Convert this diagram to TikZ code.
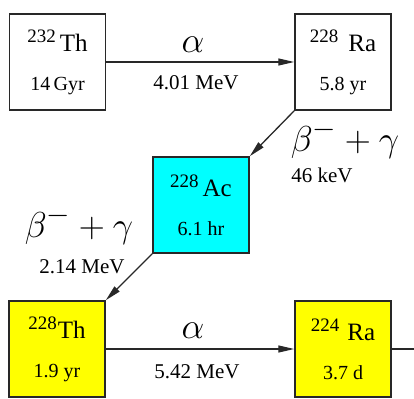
\documentclass[tikz,border=0pt]{standalone}
\usepackage{fontspec}
\setmainfont{Liberation Serif}
\usepackage{tikz}
\usetikzlibrary{arrows.meta, positioning}
\definecolor{accyan}{RGB}{0, 255, 255}
\definecolor{thyellow}{RGB}{255, 255, 0}
\definecolor{edgegray}{RGB}{40, 40, 40}

% mass number, symbol (optional gap between them)
\newcommand\iso[3][4pt]{%
  {\fontsize{19}{19}\selectfont\raisebox{9pt}{#2}}\hspace{#1}{\fontsize{25}{25}\selectfont #3}}
% decay mode, drawn large
\newcommand\dmode[1]{\scalebox{1.45}{$#1$}}

\begin{document}
\begin{tikzpicture}[
  x=1pt, y=-1pt,
  nucbox/.style={
    rectangle, draw=edgegray, line width=1.5pt,
    fill=white,
    minimum size=96pt, inner sep=0pt,
    align=center,
    font=\fontsize{20}{39}\selectfont
  },
  decay/.style={-{Triangle[length=16pt,width=7pt]}, line width=1.3pt, edgegray},
  mode/.style={font=\Huge, inner sep=0pt},
  energy/.style={font=\fontsize{21}{24}\selectfont, inner sep=0pt, anchor=base}
]
\useasboundingbox (0,0) rectangle (414,398);

\node[nucbox] (th232) at (57.5,62)  {\iso{232}{Th}\\14\,Gyr};
\node[nucbox] (ra228) at (343,62)   {\iso[10pt]{228}{Ra}\\5.8 yr};
\node[nucbox, fill=accyan] (ac228) at (201,205) {\iso{228}{Ac}\\6.1 hr};
\node[nucbox, fill=thyellow] (th228) at (57,349) {\iso[1pt]{228}{Th}\\1.9 yr};
\node[nucbox, fill=thyellow] (ra224) at (343,349) {\iso[8pt]{224}{Ra}\\3.7 d};
\coordinate (next) at (414,349);

% alpha decays
\draw[decay] (th232) -- (ra228);
\node[mode]   (alpha1) at (193,45)  {\dmode{\alpha}};
\node[energy] (e1)     at (196,90)  {4.01 MeV};

\draw[decay] (th228) -- (ra224);
\node[mode]   (alpha2) at (193,331) {\dmode{\alpha}};
\node[energy] (e2)     at (197,378) {5.42 MeV};

\draw[decay, -] (ra224) -- (next);

% beta decays
\draw[decay] (ra228.south west) -- (ac228.north east);
\node[mode, anchor=base] (beta1) at (345,151) {\dmode{\beta^-+\gamma}};
\node[energy] (e3) at (322,182) {46 keV};

\draw[decay] (ac228.south west) -- (th228.north east);
\node[mode, anchor=base] (beta2) at (79,237) {\dmode{\beta^-+\gamma}};
\node[energy] (e4) at (82,273) {2.14 MeV};

\end{tikzpicture}
\end{document}
